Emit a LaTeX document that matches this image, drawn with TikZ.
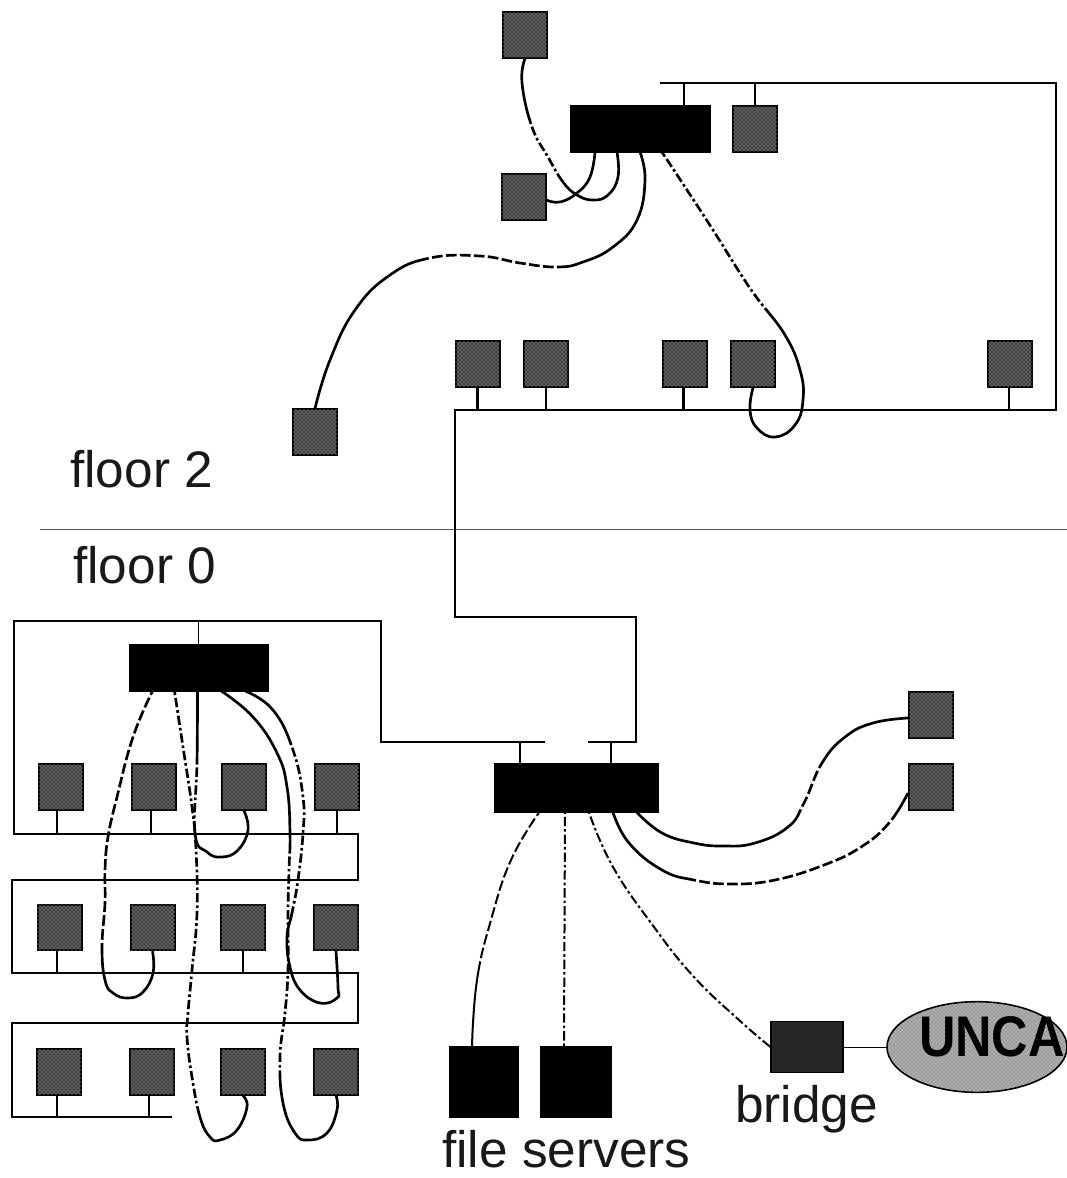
\documentclass[tikz,border=0pt]{standalone}
\usepackage{fontspec}
\setmainfont{Liberation Sans}
\usetikzlibrary{calc,patterns,shapes.geometric}
\def\rep#1#2{\ifnum#1>0 #2\expandafter\rep\expandafter{\the\numexpr#1-1\relax}{#2}\fi}
\def\dd{on 7pt off 2.2pt on 2pt off 2.2pt }
\def\ds{on 8pt off 2.5pt }
\tikzset{
  station/.style={draw=black,line width=1.5pt,fill=black!75,minimum width=33pt,minimum height=34pt,inner sep=0pt,
    postaction={pattern=crosshatch dots,pattern color=white!80!black}},
  hubbox/.style={draw=black,fill=black,line width=.5pt,inner sep=0pt},
  bus/.style={line width=2.1pt,line cap=butt,line join=miter},
  cable/.style={line width=2pt,line cap=butt},
  thincable/.style={line width=1.5pt,line cap=butt},
  mixdd/.style 2 args={dash pattern/.expanded={on #1pt off 2.2pt \rep{#2}{\dd} on 900pt off 1pt}},
  mixds/.style 2 args={dash pattern/.expanded={on #1pt off 2.5pt \rep{#2}{\ds} on 900pt off 1pt}},
  lab/.style={anchor=base west,inner sep=0pt,font=\fontsize{38.5}{40}\selectfont,text=black!90},
  wire/.style={smooth,tension=.75},
}
\newcommand{\stub}[3]{\draw[bus] ($(#1.south)+(#2,0)$) -- ++(0,#3);}
\begin{document}
\begin{tikzpicture}[x=0.75pt,y=-0.75pt]
\useasboundingbox (0,0) rectangle (1067,1178);
% floor line
\coordinate (fl) at (40,529); \coordinate (fr) at (1067,529);
\draw[line width=.6pt,black!65] (fl) -- (fr);
% stations
\foreach \n/\x/\y in {wa/525/35,wb/523.5/197,wc/755/129,
  m1/477.5/364,m2/546/364,m3/684.5/364,m4/753/364,m5/1010/364,wl/315/432,
  a1/60.5/787,a2/153.5/787,a3/244/787,a4/337/787,
  b1/59.5/927.5,b2/152.5/927.5,b3/243/927.5,b4/336/927.5,
  c1/59/1072,c2/152/1072,c3/243/1072,c4/336/1072,
  ra/931/715,rb/931/787}
  \node[station] (\n) at (\x,\y) {};
% hubs
\node[hubbox,minimum width=105pt,minimum height=35pt] (hubT) at (640.5,128.5) {};
\node[hubbox,minimum width=104pt,minimum height=35pt] (hubL) at (198.5,667.5) {};
\node[hubbox,minimum width=123pt,minimum height=37pt] (hubM) at (576,787.5) {};
\node[hubbox,minimum width=52pt,minimum height=53pt] (fs1) at (483.5,1081.5) {};
\node[hubbox,minimum width=53pt,minimum height=53pt] (fs2) at (575.5,1081.5) {};
\node[draw=black,line width=.8pt,fill=black!85,minimum width=54pt,minimum height=38pt,inner sep=0pt] (br) at (807,1047) {};
\node[ellipse,draw=black,line width=1.2pt,fill=black!30,minimum width=135pt,minimum height=68pt,inner sep=0pt,
  postaction={pattern=crosshatch dots,pattern color=black!75}] (unca) at (977,1047) {};
\node[anchor=center,inner sep=0pt,xscale=.88,font=\fontsize{43}{45}\selectfont\bfseries,text=black] (uncat) at (992,1037) {UNCA};
% backbone segments
\coordinate (p1) at (660,83); \coordinate (p2) at (1056,83); \coordinate (p3) at (1056,410);
\coordinate (p4) at (455,410); \coordinate (p5) at (455,617); \coordinate (p6) at (636,617);
\coordinate (p7) at (636,742); \coordinate (p8) at (588,742);
\draw[bus] (p1) -- (p2) -- (p3) -- (p4) -- (p5) -- (p6) -- (p7) -- (p8);
\coordinate (q0) at (545,742); \coordinate (q1) at (381,742); \coordinate (q2) at (381,621);
\coordinate (q3) at (14,621); \coordinate (q4) at (14,834); \coordinate (q5) at (358,834);
\coordinate (q6) at (358,880); \coordinate (q7) at (12,880); \coordinate (q8) at (12,973);
\coordinate (q9) at (358,973); \coordinate (q10) at (358,1023); \coordinate (q11) at (12,1023);
\coordinate (q12) at (12,1117); \coordinate (q13) at (172,1117);
\draw[bus] (q0) -- (q1) -- (q2) -- (q3) -- (q4) -- (q5) -- (q6) -- (q7) -- (q8) -- (q9) -- (q10) -- (q11) -- (q12) -- (q13);
% stubs
\draw[bus] ($(hubT.north)+(43.5,0)$) -- ++(0,-22);
\draw[bus] (wc.north) -- ++(0,-22);
\draw[bus,line width=1.4pt] (hubL.north) -- ++(0,-23);
\draw[bus] ($(hubM.north)+(-56,0)$) -- ++(0,-21);
\draw[bus] ($(hubM.north)+(35,0)$) -- ++(0,-21);
\stub{m1}{0}{22} \stub{m2}{0}{22} \stub{m3}{-1}{22} \stub{m5}{-1}{22}
\stub{a1}{-3.5}{22} \stub{a2}{-2.5}{22} \stub{a4}{0}{22}
\stub{b1}{-2.5}{22} \stub{b3}{0}{22}
\stub{c1}{-2}{21} \stub{c2}{-3}{21}
% attachment points
\coordinate (t1) at ($(hubT.south)+(-45.5,0)$);
\coordinate (t2) at ($(hubT.south)+(-23.5,0)$);
\coordinate (t3) at ($(hubT.south)+(-0.5,0)$);
\coordinate (t4) at ($(hubT.south)+(21.5,0)$);
\coordinate (l1) at ($(hubL.south)+(-46,0)$);
\coordinate (l2) at ($(hubL.south)+(-24,0)$);
\coordinate (l3) at ($(hubL.south)+(-1,0)$);
\coordinate (l4) at ($(hubL.south)+(23,0)$);
\coordinate (l5) at ($(hubL.south)+(47,0)$);
\coordinate (h1) at ($(hubM.south)+(-37,0)$);
\coordinate (h2) at ($(hubM.south)+(-11,0)$);
\coordinate (h3) at ($(hubM.south)+(13,0)$);
\coordinate (h4) at ($(hubM.south)+(37,0)$);
\coordinate (h5) at ($(hubM.south)+(61,0)$);
\coordinate (f1) at ($(fs1.north)+(-11.5,0)$);
\coordinate (f2n) at ($(fs2.north)+(-11.5,0)$);
\coordinate (rae) at ($(ra.west)+(0,3)$);
\coordinate (rbe) at ($(rb.west)+(0,6)$);
\coordinate (wbe) at ($(wb.east)+(0,3)$);
% top cables
\draw[cable,mixdd={50}{3}] plot[wire] coordinates {(wa.south) (522,83) (532,127) (548,157) (563,182) (577,195) (593,200) (608,195) (618,177) (t2)};
\draw[cable] plot[wire] coordinates {(wbe) (560,202) (577,193) (590,177) (t1)};
\draw[cable,mixds={125}{9}] plot[wire] coordinates {(t3) (645,180) (637,220) (613,247) (583,262) (557,267) (520,263) (480,256) (430,258) (390,275) (355,310) (330,360) (wl.north)};
\draw[cable,mixdd={4}{10}] plot[wire] coordinates {(t4) (687,190) (713,230) (740,273) (757,298) (785,335) (800,370) (803,400) (795,425) (775,437) (757,428) (750,410) (m4.south)};
% left cables
\draw[cable,mixds={3}{18}] plot[wire] coordinates {(l1) (133,737) (117,797) (108,837) (105,870) (105,903) (102,947) (105,980) (113,993) (128,998) (143,992) (153,973) (b2.south)};
\draw[cable,mixdd={3}{23}] plot[wire] coordinates {(l2) (183,747) (192,807) (196,850) (197,913) (192,970) (188,1013) (187,1037) (192,1077) (200,1117) (210,1137) (220,1140) (237,1130) (247,1107) (c3.south)};
\draw[cable,mixdd={55}{3}] plot[wire] coordinates {(l3) (197,763) (195,833) (207,852) (222,857) (238,850) (248,830) (a3.south)};
\draw[cable,mixdd={140}{12}] plot[wire] coordinates {(l4) (253,717) (277,753) (287,787) (290,833) (289,870) (288,913) (288,970) (285,1013) (280,1057) (283,1103) (295,1133) (308,1140) (327,1133) (337,1110) (c4.south)};
\draw[cable,mixdd={55}{9}] plot[wire] coordinates {(l5) (273,710) (293,750) (303,797) (303,833) (298,880) (292,913) (287,937) (290,967) (300,990) (320,1003) (337,998) (338,987) (b4.south)};
% hub to the right and below
\draw[cable,mixds={140}{3}] plot[wire] coordinates {(h5) (662,833) (694,843) (723,846) (755,843) (788,827) (804,803) (822,763) (845,737) (873,723) (rae)};
\draw[cable,mixds={85}{15}] plot[wire] coordinates {(h4) (629,843) (662,870) (694,880) (731,884) (775,880) (824,865) (861,847) (889,823) (rbe)};
\draw[thincable,mixds={3}{11}] plot[wire] coordinates {(h1) (511,860) (491,920) (477,980) (f1)};
\draw[thincable,mixdd={1}{13}] (h2) -- (f2n);
\draw[thincable,mixdd={1}{16}] plot[wire] coordinates {(h3) (613,867) (654,927) (694,977) (739,1020) (br.west)};
\draw[line width=.7pt] (br.east) -- (unca.west);
% labels
\node[lab] (f2) at (70,487) {floor 2};
\node[lab] (f0) at (73,583) {floor 0};
\node[lab] (lb) at (735,1122) {bridge};
\node[lab] (lf) at (442,1167) {file servers};
\end{tikzpicture}
\end{document}
